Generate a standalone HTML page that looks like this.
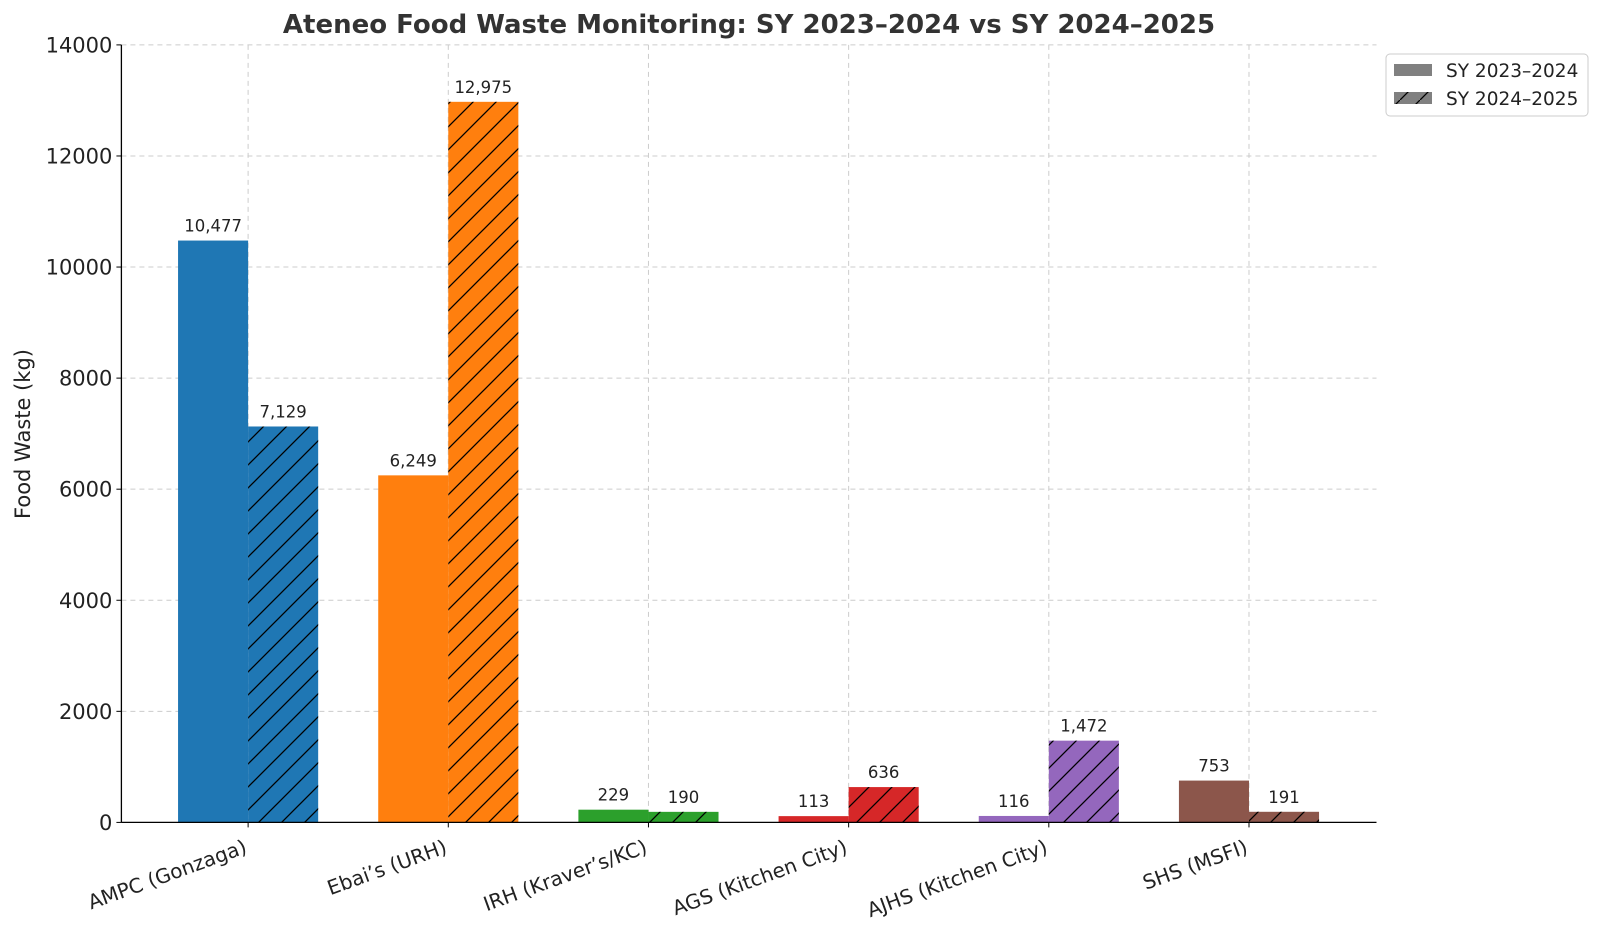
<!DOCTYPE html>
<html><head><meta charset="utf-8"><style>
body{margin:0;background:#fff;}
svg{display:block;font-family:"DejaVu Sans","Liberation Sans",sans-serif;}
</style></head><body>
<svg id="chart" width="1600" height="928" viewBox="0 0 1600 928">
<defs>
<pattern id="hatch" patternUnits="userSpaceOnUse" width="23" height="23">
<path d="M-2,25 L25,-2 M-2,2 L2,-2 M21,25 L25,21" stroke="#000" stroke-width="1.3"/>
</pattern>
<pattern id="hatchLeg" patternUnits="userSpaceOnUse" width="20" height="20">
<path d="M0,20 L20,0" stroke="#000" stroke-width="1.3"/>
</pattern>
</defs>
<text x="749" y="33" text-anchor="middle" font-size="26" font-weight="bold" fill="#333">Ateneo Food Waste Monitoring: SY 2023–2024 vs SY 2024–2025</text>
<g id="grid"></g><g id="bars"></g><g id="labels"></g><g id="axes"></g>
<text transform="translate(30,434) rotate(-90)" text-anchor="middle" font-size="21" fill="#222">Food Waste (kg)</text>
<g>
<rect x="1386" y="54" width="202" height="62" rx="4" fill="#fff" stroke="#ccc"/>
<rect x="1394" y="64" width="38" height="12" fill="#808080"/>
<text x="1446" y="77" font-size="18.5" fill="#222">SY 2023–2024</text>
<rect x="1394" y="92" width="38" height="12" fill="#808080"/>
<rect x="1394" y="92" width="38" height="12" fill="url(#hatchLeg)"/>
<text x="1446" y="105" font-size="18.5" fill="#222">SY 2024–2025</text>
</g>
</svg>
<script>
const categories=["AMPC (Gonzaga)","Ebai’s (URH)","IRH (Kraver’s/KC)","AGS (Kitchen City)","AJHS (Kitchen City)","SHS (MSFI)"];
const sy2324=[10477,6249,229,113,116,753];
const sy2425=[7129,12975,190,636,1472,191];
const colors=["#1f77b4","#ff7f0e","#2ca02c","#d62728","#9467bd","#8c564b"];
const yTicks=[0,2000,4000,6000,8000,10000,12000,14000];
const NS="http://www.w3.org/2000/svg";
const L=121.4,R=1376.5,T=44.9,B=822.4,yMax=14000;
const x0=-0.633,x1=5.637;
const xs=i=>L+(i-x0)/(x1-x0)*(R-L);
const ys=v=>B-v/yMax*(B-T);
const bw=0.35*(R-L)/(x1-x0);
function mk(tag,attrs,parent){const e=document.createElementNS(NS,tag);for(const k in attrs)e.setAttribute(k,attrs[k]);document.getElementById(parent).appendChild(e);return e;}
yTicks.forEach(t=>{
 if(t>0){const g=mk('line',{x1:L,x2:R,y1:ys(t),y2:ys(t),stroke:'#ccc','stroke-dasharray':'5,4','stroke-width':1},'grid');
 
 }
 const tx=mk('text',{x:L-9,y:ys(t)+7.5,'text-anchor':'end','font-size':21,fill:'#222'},'axes');
 tx.textContent=t;
 
 
 mk('line',{x1:L-5,x2:L,y1:ys(t),y2:ys(t),stroke:'#000'},'axes');
});
categories.forEach((c,i)=>{
 const cx=xs(i);
 const g=mk('line',{x1:cx,x2:cx,y1:T,y2:B,stroke:'#ccc','stroke-dasharray':'5,4'},'grid');
 
 
 const b1=mk('rect',{x:cx-bw,y:ys(sy2324[i]),width:bw,height:B-ys(sy2324[i]),fill:colors[i]},'bars');
 
 
 const b2=mk('rect',{x:cx,y:ys(sy2425[i]),width:bw,height:B-ys(sy2425[i]),fill:colors[i]},'bars');
 
 
 mk('rect',{x:cx,y:ys(sy2425[i]),width:bw,height:B-ys(sy2425[i]),fill:'url(#hatch)'},'bars');
 [[sy2324[i],cx-bw/2],[sy2425[i],cx+bw/2]].forEach(([v,x])=>{
  const t=mk('text',{x:x,y:ys(v)-9,'text-anchor':'middle','font-size':16.5,fill:'#222'},'labels');
  t.textContent=v.toLocaleString('en-US');
  
  
 });
 mk('line',{x1:cx,x2:cx,y1:B,y2:B+5,stroke:'#000'},'axes');
 const xl=mk('text',{x:cx,y:B+30,'text-anchor':'end','font-size':20,fill:'#222',transform:`rotate(-20 ${cx} ${B+30})`},'axes');
 xl.textContent=c;
 
 
});
mk('line',{x1:L,x2:L,y1:T,y2:B,stroke:'#000','stroke-width':1.3},'axes');
mk('line',{x1:L,x2:R,y1:B,y2:B,stroke:'#000','stroke-width':1.3},'axes');
</script>
</body></html>
